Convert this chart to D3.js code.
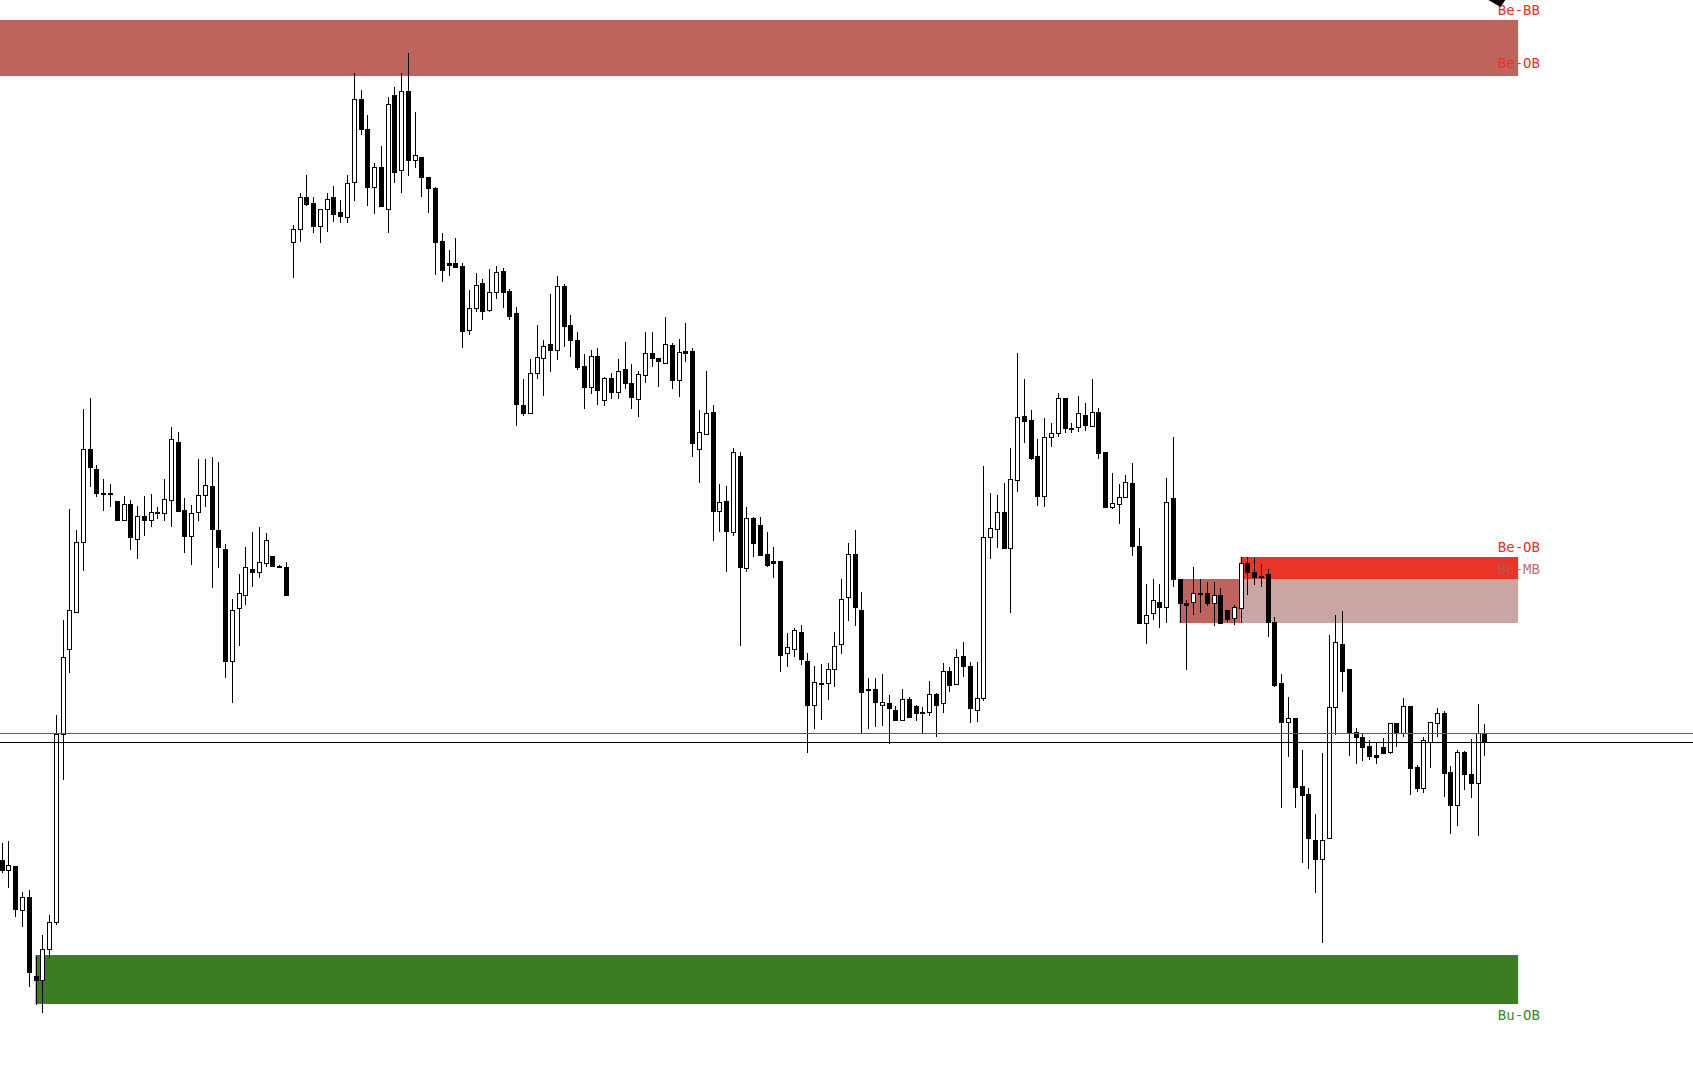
<html>

<head>
    <script src="https://d3js.org/d3.v7.min.js"></script>
    <style>
        body {
            margin: 0;
            background-color: white;
        }

        svg {
            display: block;
        }
    </style>
</head>

<body>
    <div id="chart"></div>
    <script>
        // candles, oldest first
        var open = [
            2140, 2130, 2134, 2090, 2103, 2024, 2020, 2051, 2078, 2266,
            2351, 2388, 2458, 2551, 2531, 2507, 2507, 2499, 2480, 2496,
            2461, 2484, 2480, 2488, 2487, 2500, 2558, 2490, 2464, 2488,
            2505, 2514, 2470, 2451, 2339, 2392, 2405, 2431, 2428, 2437,
            2444, 2434, 2433, 2758, 2771, 2803, 2797, 2774, 2791, 2803,
            2788, 2783, 2818, 2901, 2871, 2813, 2833, 2791, 2905, 2830,
            2909, 2840, 2843, 2823, 2812, 2759, 2737, 2737, 2734, 2670,
            2692, 2717, 2690, 2708, 2729, 2709, 2687, 2595, 2587, 2627,
            2642, 2656, 2650, 2714, 2675, 2660, 2634, 2613, 2644, 2600,
            2622, 2608, 2631, 2617, 2601, 2625, 2647, 2642, 2637, 2655,
            2620, 2649, 2649, 2551, 2566, 2588, 2489, 2499, 2468, 2544,
            2432, 2482, 2475, 2446, 2439, 2439, 2347, 2351, 2368, 2339,
            2295, 2316, 2317, 2331, 2356, 2403, 2446, 2390, 2311, 2311,
            2295, 2297, 2290, 2280, 2301, 2294, 2288, 2288, 2306, 2297,
            2329, 2316, 2344, 2334, 2290, 2302, 2463, 2471, 2488, 2452,
            2520, 2584, 2580, 2544, 2504, 2563, 2567, 2602, 2572, 2573,
            2585, 2574, 2588, 2548, 2493, 2496, 2503, 2517, 2454, 2377,
            2387, 2398, 2393, 2502, 2421, 2397, 2398, 2407, 2407, 2397,
            2405, 2390, 2382, 2392, 2437, 2428, 2424, 2426, 2378, 2317,
            2278, 2282, 2214, 2206, 2160, 2141, 2162, 2293, 2356, 2331,
            2268, 2263, 2254, 2245, 2253, 2248, 2277, 2267, 2294, 2233,
            2212, 2258, 2277, 2287, 2228, 2195, 2248, 2226, 2217, 2267
        ];
        var high = [
            2157, 2159, 2134, 2108, 2110, 2044, 2065, 2085, 2285, 2380,
            2491, 2470, 2591, 2602, 2535, 2521, 2516, 2499, 2504, 2500,
            2494, 2504, 2506, 2493, 2521, 2573, 2568, 2502, 2495, 2541,
            2541, 2543, 2538, 2456, 2401, 2426, 2453, 2468, 2473, 2467,
            2444, 2435, 2438, 2775, 2807, 2825, 2803, 2791, 2807, 2814,
            2800, 2825, 2927, 2910, 2885, 2837, 2854, 2903, 2913, 2927,
            2947, 2888, 2843, 2823, 2813, 2767, 2750, 2762, 2737, 2710,
            2727, 2721, 2731, 2734, 2732, 2711, 2693, 2621, 2641, 2675,
            2660, 2706, 2724, 2716, 2685, 2668, 2646, 2650, 2652, 2623,
            2627, 2641, 2658, 2636, 2629, 2668, 2668, 2642, 2683, 2657,
            2661, 2677, 2652, 2590, 2629, 2595, 2516, 2514, 2552, 2548,
            2493, 2483, 2483, 2468, 2453, 2439, 2367, 2372, 2375, 2347,
            2334, 2336, 2337, 2368, 2421, 2457, 2470, 2408, 2322, 2322,
            2326, 2305, 2294, 2311, 2303, 2295, 2293, 2319, 2307, 2337,
            2333, 2351, 2358, 2338, 2338, 2534, 2507, 2505, 2517, 2552,
            2647, 2621, 2590, 2561, 2582, 2577, 2607, 2602, 2577, 2604,
            2597, 2621, 2592, 2548, 2527, 2516, 2525, 2537, 2472, 2416,
            2421, 2416, 2522, 2563, 2421, 2400, 2433, 2421, 2418, 2418,
            2412, 2390, 2395, 2443, 2443, 2442, 2436, 2431, 2383, 2326,
            2303, 2282, 2250, 2212, 2186, 2247, 2365, 2385, 2389, 2331,
            2272, 2266, 2260, 2258, 2262, 2277, 2277, 2302, 2294, 2235,
            2263, 2278, 2292, 2289, 2234, 2250, 2249, 2261, 2296, 2276
        ];
        var low = [
            2127, 2112, 2083, 2073, 2013, 1995, 1987, 2042, 2075, 2220,
            2327, 2388, 2429, 2513, 2503, 2489, 2493, 2480, 2480, 2450,
            2441, 2464, 2473, 2481, 2479, 2473, 2489, 2447, 2435, 2479,
            2493, 2412, 2432, 2322, 2297, 2354, 2395, 2413, 2422, 2433,
            2434, 2432, 2405, 2722, 2758, 2794, 2767, 2757, 2768, 2778,
            2777, 2777, 2799, 2865, 2794, 2786, 2793, 2767, 2817, 2807,
            2824, 2832, 2803, 2787, 2725, 2718, 2724, 2732, 2652, 2665,
            2688, 2680, 2688, 2701, 2692, 2680, 2574, 2584, 2587, 2621,
            2604, 2628, 2640, 2653, 2643, 2630, 2591, 2606, 2595, 2594,
            2601, 2601, 2611, 2591, 2583, 2617, 2633, 2613, 2637, 2611,
            2603, 2638, 2543, 2517, 2566, 2459, 2468, 2428, 2464, 2354,
            2428, 2443, 2445, 2433, 2422, 2328, 2333, 2343, 2335, 2247,
            2271, 2280, 2300, 2313, 2346, 2379, 2374, 2267, 2271, 2273,
            2274, 2256, 2280, 2280, 2282, 2279, 2267, 2284, 2263, 2287,
            2308, 2316, 2323, 2277, 2278, 2299, 2441, 2452, 2451, 2387,
            2508, 2557, 2540, 2494, 2493, 2553, 2563, 2567, 2567, 2568,
            2569, 2573, 2541, 2493, 2491, 2476, 2503, 2444, 2377, 2356,
            2380, 2372, 2377, 2413, 2377, 2330, 2385, 2387, 2394, 2374,
            2376, 2378, 2375, 2377, 2405, 2415, 2413, 2363, 2313, 2192,
            2243, 2192, 2137, 2131, 2107, 2057, 2162, 2265, 2308, 2244,
            2236, 2239, 2240, 2236, 2247, 2246, 2253, 2263, 2205, 2208,
            2207, 2232, 2263, 2203, 2166, 2174, 2210, 2202, 2164, 2244
        ];
        var close = [
            2130, 2135, 2091, 2103, 2028, 2020, 2051, 2078, 2266, 2343,
            2390, 2458, 2551, 2533, 2507, 2506, 2506, 2480, 2496, 2463,
            2484, 2480, 2488, 2488, 2501, 2561, 2489, 2464, 2487, 2505,
            2515, 2471, 2453, 2339, 2390, 2407, 2433, 2428, 2438, 2460,
            2434, 2433, 2405, 2771, 2803, 2796, 2774, 2791, 2801, 2786,
            2784, 2817, 2901, 2871, 2813, 2833, 2794, 2896, 2828, 2909,
            2840, 2845, 2823, 2812, 2758, 2730, 2735, 2733, 2669, 2692,
            2715, 2689, 2708, 2728, 2708, 2684, 2596, 2587, 2627, 2643,
            2654, 2650, 2714, 2674, 2660, 2633, 2613, 2644, 2610, 2622,
            2608, 2629, 2617, 2603, 2626, 2647, 2642, 2639, 2656, 2620,
            2648, 2647, 2557, 2568, 2587, 2489, 2498, 2469, 2548, 2433,
            2482, 2457, 2445, 2435, 2437, 2345, 2353, 2370, 2341, 2295,
            2318, 2317, 2331, 2354, 2401, 2446, 2393, 2308, 2310, 2298,
            2298, 2292, 2280, 2301, 2283, 2287, 2287, 2306, 2295, 2329,
            2315, 2343, 2334, 2292, 2302, 2463, 2472, 2488, 2452, 2521,
            2583, 2579, 2542, 2504, 2563, 2567, 2602, 2572, 2571, 2587,
            2575, 2588, 2547, 2493, 2497, 2503, 2518, 2454, 2377, 2385,
            2400, 2393, 2498, 2421, 2397, 2395, 2407, 2406, 2397, 2405,
            2377, 2381, 2393, 2437, 2428, 2423, 2423, 2378, 2315, 2278,
            2282, 2213, 2205, 2162, 2141, 2160, 2293, 2358, 2329, 2267,
            2263, 2253, 2244, 2243, 2247, 2277, 2267, 2294, 2232, 2212,
            2260, 2278, 2287, 2227, 2195, 2248, 2226, 2217, 2267, 2258
        ];

        // order block / mitigation zones (bar index from..to, price top..bottom)
        var zoneKind = ["beOB", "buOB", "beOBold", "beOBnew", "beMB"];
        var zoneFrom = [-0.25, 5, 174, 183, 183];
        var zoneTo = [224, 224, 183, 224, 224];
        var zoneTop = [2980, 2045, 2421, 2443, 2421];
        var zoneBottom = [2924, 1996, 2377, 2421, 2377];

        // text labels on the right
        var labelText = ["Be-BB", "Be-OB", "Be-OB", "Be-MB", "Bu-OB"];
        var labelPrice = [2985, 2932, 2448, 2426, 1980];
        var labelBar = 221;

        var askPrice = 2267;
        var bidPrice = close[close.length - 1];

        var zoneColor = {
            beOB: "#bf635d",
            buOB: "#3a7d23",
            beOBold: "#bf635d",
            beOBnew: "#e93527",
            beMB: "#c9a5a3"
        };
        var labelColor = {
            "Be-BB": "#e8332a",
            "Be-OB": "#e8332a",
            "Be-MB": "#b45a5a",
            "Bu-OB": "#3c8a28"
        };

        var width = 1693,
            height = 1080;

        var x = d3.scaleLinear().domain([0, 219]).range([1.7, 1484.3]);
        var y = d3.scaleLinear().domain([1920, 3000]).range([height, 0]);

        var svg = d3.select("#chart").append("svg")
            .attr("width", width)
            .attr("height", height)
            .style("background", "white");

        // zones go behind the candles
        var zones = d3.range(zoneKind.length).map(function (i) {
            return { kind: zoneKind[i], from: zoneFrom[i], to: zoneTo[i], top: zoneTop[i], bottom: zoneBottom[i] };
        });
        svg.append("g").selectAll("rect").data(zones).enter()
            .append("rect")
            .attr("x", function (d) { return Math.max(0, x(d.from)); })
            .attr("y", function (d) { return y(d.top); })
            .attr("width", function (d) { return x(d.to) - Math.max(0, x(d.from)); })
            .attr("height", function (d) { return y(d.bottom) - y(d.top); })
            .style("fill", function (d) { return zoneColor[d.kind]; });

        var candles = d3.range(open.length).map(function (i) {
            return { i: i, o: open[i], h: high[i], l: low[i], c: close[i] };
        });

        // body is 5px wide, wick sits in its middle pixel
        var g = svg.append("g").attr("shape-rendering", "crispEdges");
        var candle = g.selectAll("g.candle").data(candles).enter()
            .append("g").attr("class", "candle");

        candle.append("line")
            .attr("x1", function (d) { return Math.round(x(d.i)) + 0.5; })
            .attr("x2", function (d) { return Math.round(x(d.i)) + 0.5; })
            .attr("y1", function (d) { return y(d.h); })
            .attr("y2", function (d) { return y(d.l); })
            .style("stroke", "black")
            .style("stroke-width", 1);

        candle.append("rect")
            .attr("x", function (d) { return Math.round(x(d.i)) - 1.5; })
            .attr("y", function (d) { return Math.round(y(Math.max(d.o, d.c))) + 0.5; })
            .attr("width", 4)
            .attr("height", function (d) { return Math.max(1, Math.round(Math.abs(y(d.o) - y(d.c)))); })
            .style("fill", function (d) { return d.c >= d.o ? "white" : "black"; })
            .style("stroke", "black")
            .style("stroke-width", 1);

        // ask and bid lines
        svg.append("line")
            .attr("x1", 0).attr("x2", width)
            .attr("y1", Math.round(y(askPrice)) + 0.5).attr("y2", Math.round(y(askPrice)) + 0.5)
            .style("stroke", "#e8202a").style("stroke-width", 1);
        svg.append("line")
            .attr("x1", 0).attr("x2", width)
            .attr("y1", Math.round(y(bidPrice)) + 0.5).attr("y2", Math.round(y(bidPrice)) + 0.5)
            .style("stroke", "black").style("stroke-width", 1);

        // labels
        svg.append("g").selectAll("text").data(labelText).enter()
            .append("text")
            .attr("x", x(labelBar))
            .attr("y", function (d, i) { return y(labelPrice[i]); })
            .text(function (d) { return d; })
            .style("font-family", "'DejaVu Sans Mono', monospace")
            .style("font-size", "14px")
            .style("fill", function (d) { return labelColor[d]; })
            .style("opacity", function (d) { return d == "Be-MB" ? 0.85 : 1; });

        // arrow tip peeking in at the top
        var tip = [[x(219.6), y(3000)], [x(222.1), y(3000)], [x(221.4), y(2993)]];
        svg.append("path")
            .attr("d", d3.line()(tip) + "Z")
            .style("fill", "black");
    </script>
</body>

</html>
